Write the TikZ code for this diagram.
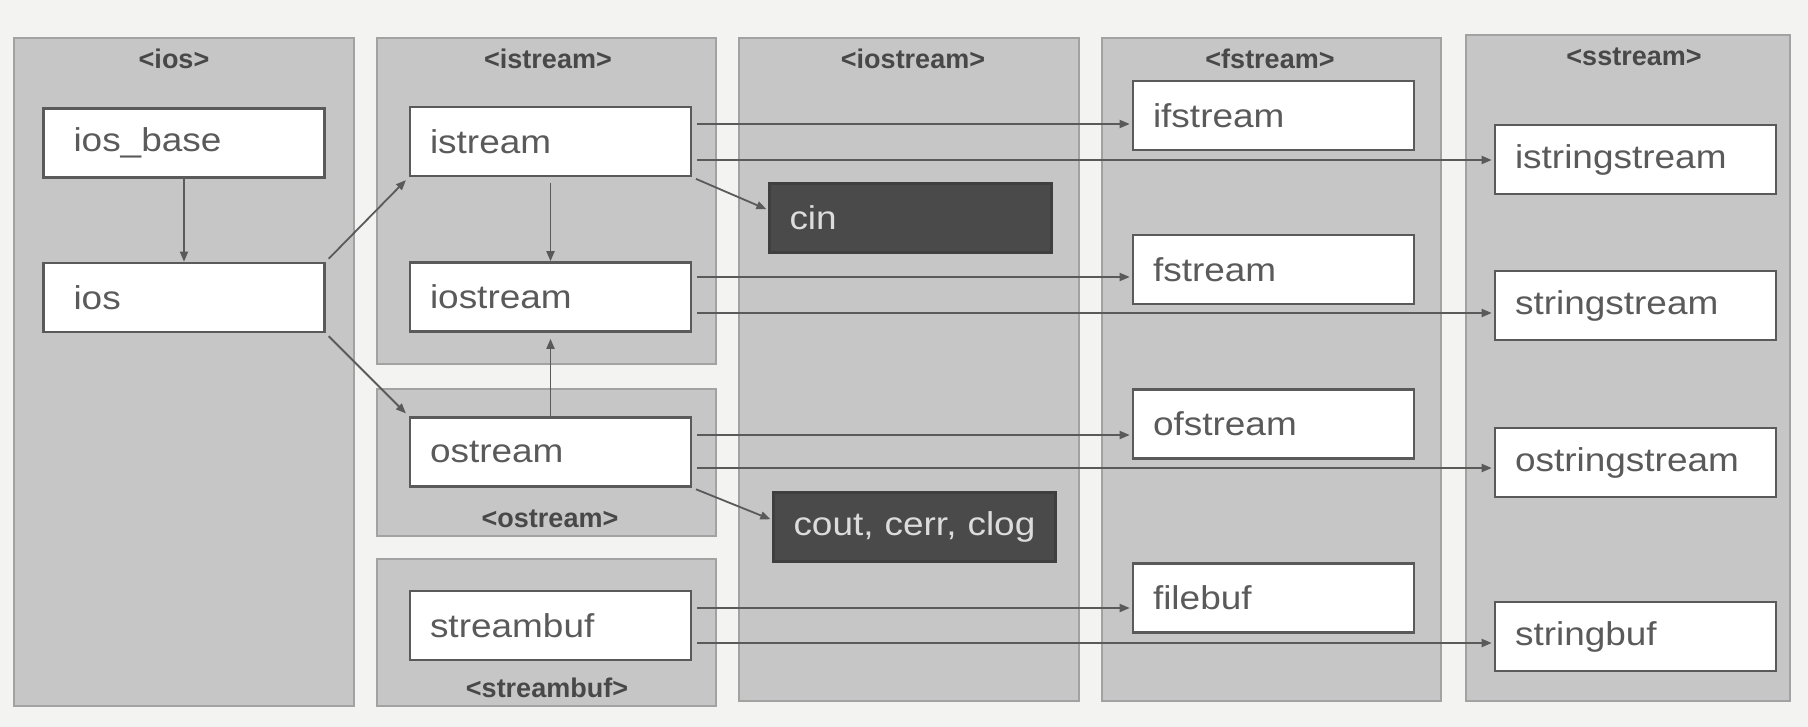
\documentclass[tikz,border=0pt]{standalone}
\usepackage{fontspec}
\setmainfont{Liberation Sans}
\newfontfamily\nodefnt[FakeStretch=1.12]{Liberation Sans}
\newfontfamily\titlefnt[FakeStretch=1.0]{Liberation Sans}
\usetikzlibrary{arrows.meta}
\definecolor{bgc}{HTML}{F3F3F1}
\definecolor{panelfill}{HTML}{C6C6C6}
\definecolor{panelline}{HTML}{A2A2A2}
\definecolor{boxline}{HTML}{5A5A5A}
\definecolor{txt}{HTML}{5A5A5A}
\definecolor{darkfill}{HTML}{4A4A4A}
\definecolor{darktxt}{HTML}{DCDCDC}
\definecolor{titletxt}{HTML}{484848}
\tikzset{
  panel/.style={fill=panelfill, draw=panelline, line width=1.4pt},
  ptitle/.style={font=\titlefnt\bfseries\fontsize{13.5}{15}\selectfont, text=titletxt, inner sep=0pt},
  cls/.style={draw=boxline, line width=1.3pt, fill=white, text=txt,
    font=\nodefnt\fontsize{16.5}{18}\selectfont, minimum height=34.5pt,
    text width=120.5pt, inner xsep=10pt, inner ysep=0pt, align=left},
  clswide/.style={cls, text width=110.5pt, inner xsep=15pt},
  obj/.style={cls, fill=darkfill, draw=darkfill!85!black, text=darktxt, text width=121pt},
  arr/.style={draw=boxline, line width=0.9pt, -{Triangle[length=5pt,width=4pt]}}
}
\begin{document}
\begin{tikzpicture}[x=0.5pt, y=-0.5pt]
\fill[bgc] (0,0) rectangle (1808,727);
\useasboundingbox (0,0) rectangle (1808,727);
% panels
\draw[panel] (14,38) rectangle (354,706);
\draw[panel] (377,38) rectangle (716,364);
\draw[panel] (377,389) rectangle (716,536);
\draw[panel] (377,559) rectangle (716,706);
\draw[panel] (739,38) rectangle (1079,701);
\draw[panel] (1102,38) rectangle (1441,701);
\draw[panel] (1466,35) rectangle (1790,701);
% titles
\node[ptitle] (t-ios) at (174,59) {<ios>};
\node[ptitle] (t-istream) at (548,59) {<istream>};
\node[ptitle] (t-ostream) at (550,519) {<ostream>};
\node[ptitle] (t-streambuf) at (547,688) {<streambuf>};
\node[ptitle] (t-iostream) at (913,59) {<iostream>};
\node[ptitle] (t-fstream) at (1270,59) {<fstream>};
\node[ptitle] (t-sstream) at (1634,57) {<sstream>};
% classes
\node[clswide] (iosbase) at (184,143) {ios\_base};
\node[clswide] (ios) at (184,297.5) {ios};
\node[cls] (istream) at (550.5,141.5) {istream};
\node[cls] (iostream) at (550.5,297) {iostream};
\node[cls] (ostream) at (550.5,452) {ostream};
\node[cls] (streambuf) at (550.5,625.5) {streambuf};
\node[obj] (cin) at (910.5,218) {cin};
\node[obj] (cout) at (914.5,527) {cout, cerr, clog};
\node[cls] (ifstream) at (1273.5,115.5) {ifstream};
\node[cls] (fstream) at (1273.5,269.5) {fstream};
\node[cls] (ofstream) at (1273.5,424) {ofstream};
\node[cls] (filebuf) at (1273.5,598) {filebuf};
\node[cls] (istringstream) at (1635.5,159.5) {istringstream};
\node[cls] (stringstream) at (1635.5,305.5) {stringstream};
\node[cls] (ostringstream) at (1635.5,462.5) {ostringstream};
\node[cls] (stringbuf) at (1635.5,636.5) {stringbuf};
% inheritance
\draw[arr] (iosbase.south) -- (ios.north);
\draw[arr, shorten <=3pt] (istream.south) -- (iostream.north);
\draw[arr, shorten >=3pt] (ostream.north) -- (iostream.south);
\draw[arr, shorten <=2pt, shorten >=2pt] (ios.north east) -- (istream.south west);
\draw[arr, shorten <=2pt, shorten >=2pt] (ios.south east) -- (ostream.north west);
\draw[arr, shorten <=2pt, shorten >=1pt] (istream.south east) -- ([yshift=4pt]cin.west);
\draw[arr, shorten <=2pt, shorten >=1pt] (ostream.south east) -- ([yshift=3.5pt]cout.west);
\draw[arr, shorten <=2.5pt, shorten >=1pt] (istream.east |- 0,124) -- (ifstream.west |- 0,124);
\draw[arr, shorten <=2.5pt, shorten >=1pt] (istream.east |- 0,160) -- (istringstream.west |- 0,160);
\draw[arr, shorten <=2.5pt, shorten >=1pt] (iostream.east |- 0,277) -- (fstream.west |- 0,277);
\draw[arr, shorten <=2.5pt, shorten >=1pt] (iostream.east |- 0,313) -- (stringstream.west |- 0,313);
\draw[arr, shorten <=2.5pt, shorten >=1pt] (ostream.east |- 0,435) -- (ofstream.west |- 0,435);
\draw[arr, shorten <=2.5pt, shorten >=1pt] (ostream.east |- 0,468) -- (ostringstream.west |- 0,468);
\draw[arr, shorten <=2.5pt, shorten >=1pt] (streambuf.east |- 0,608) -- (filebuf.west |- 0,608);
\draw[arr, shorten <=2.5pt, shorten >=1pt] (streambuf.east |- 0,643) -- (stringbuf.west |- 0,643);
\end{tikzpicture}
\end{document}
